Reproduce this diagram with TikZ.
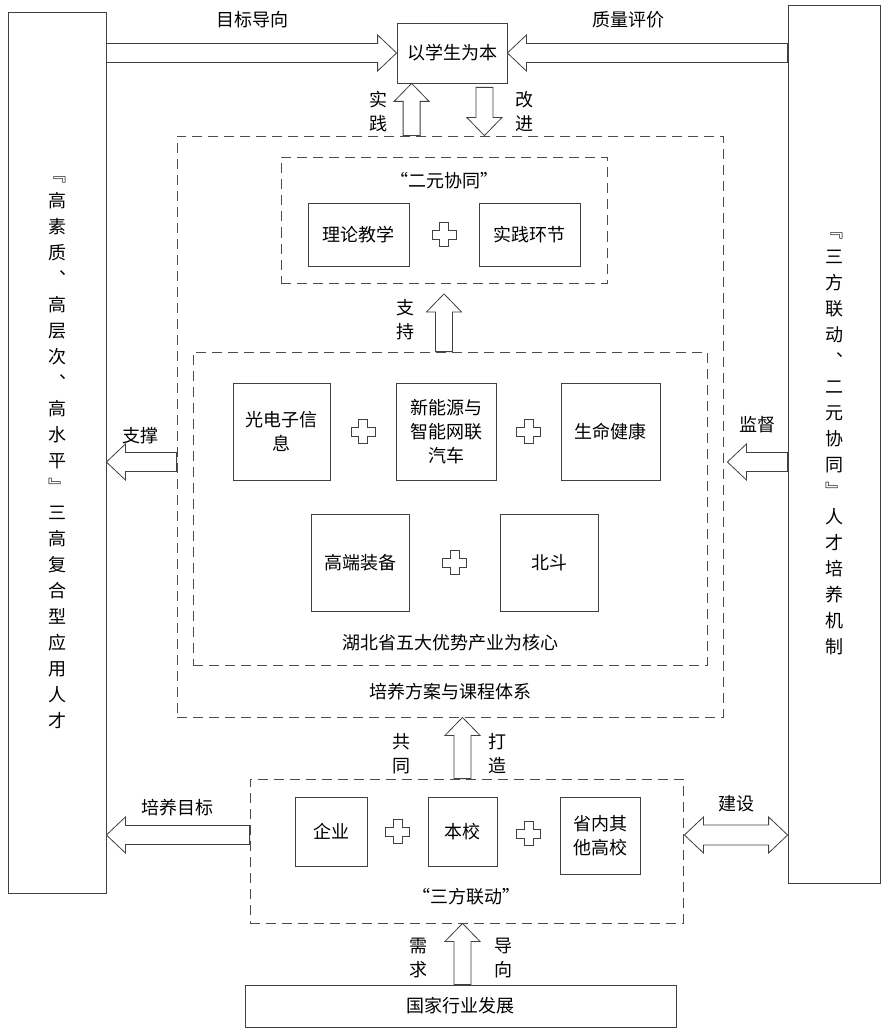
\documentclass[tikz,border=0pt]{standalone}
\usepackage{fontspec}
\setmainfont{Noto Sans CJK SC}
\usetikzlibrary{calc}
\tikzset{
  box/.style={draw=black!75, line width=0.8pt, align=center, inner sep=0pt},
  dbox/.style={draw=black!70, line width=0.8pt, dash pattern=on 10pt off 6pt},
  lbl/.style={inner sep=0pt, align=center},
  blockarrow/.style={draw=black!75, fill=white, line width=0.8pt, line join=miter},
  pics/plussign/.style={code={
    \draw[blockarrow] (-4.5,-12) -- (4.5,-12) -- (4.5,-4.5) -- (12,-4.5) -- (12,4.5) -- (4.5,4.5)
      -- (4.5,12) -- (-4.5,12) -- (-4.5,4.5) -- (-12,4.5) -- (-12,-4.5) -- (-4.5,-4.5) -- cycle;}}
}
% block arrows: horizontal, vertical, double
\newcommand\harrow[2]{%
  \draw[blockarrow] let \p1=(#1), \p2=(#2), \n1={ifthenelse(\x2>\x1,19,-19)} in
    (\x1,{\y1+9.5pt}) -- ({\x2-\n1*1pt},{\y1+9.5pt}) -- ({\x2-\n1*1pt},{\y1+18pt}) -- (\x2,\y1)
    -- ({\x2-\n1*1pt},{\y1-18pt}) -- ({\x2-\n1*1pt},{\y1-9.5pt}) -- (\x1,{\y1-9.5pt}) -- cycle;}
\newcommand\varrow[2]{%
  \draw[blockarrow] let \p1=(#1), \p2=(#2), \n1={ifthenelse(\y2>\y1,18,-18)} in
    ({\x1-8.5pt},\y1) -- ({\x1-8.5pt},{\y2-\n1*1pt}) -- ({\x1-17.5pt},{\y2-\n1*1pt}) -- (\x1,\y2)
    -- ({\x1+17.5pt},{\y2-\n1*1pt}) -- ({\x1+8.5pt},{\y2-\n1*1pt}) -- ({\x1+8.5pt},\y1) -- cycle;}
\newcommand\dharrow[2]{%
  \draw[blockarrow] let \p1=(#1), \p2=(#2) in
    (\x1,\y1) -- ({\x1+19pt},{\y1+18pt}) -- ({\x1+19pt},{\y1+10pt}) -- ({\x2-19pt},{\y1+10pt})
    -- ({\x2-19pt},{\y1+18pt}) -- (\x2,\y1) -- ({\x2-19pt},{\y1-18pt}) -- ({\x2-19pt},{\y1-10pt})
    -- ({\x1+19pt},{\y1-10pt}) -- ({\x1+19pt},{\y1-18pt}) -- cycle;}

\begin{document}
\begin{tikzpicture}[x=1pt, y=-1pt, every node/.append style={font=\fontsize{18}{24}\selectfont}]
	\useasboundingbox (0,0) rectangle (885,1032);
	% side boxes
	\node[box, minimum width=98pt, minimum height=881pt, font=\fontsize{18}{26}\selectfont] (lbox) at (57,452.5)
		{﹃\\高\\素\\质\\︑\\高\\层\\次\\︑\\高\\水\\平\\﹄\\三\\高\\复\\合\\型\\应\\用\\人\\才};
	\node[box, minimum width=92pt, minimum height=878pt, font=\fontsize{18}{26}\selectfont] (rbox) at (834,444)
		{﹃\\三\\方\\联\\动\\︑\\二\\元\\协\\同\\﹄\\人\\才\\培\\养\\机\\制};
	% top
	\node[box, minimum width=110pt, minimum height=60pt] (core) at (452,53) {以学生为本};
	% dashed frames
	\node[dbox, minimum width=546pt, minimum height=581pt] (plan) at (450,426.5) {};
	\node[dbox, minimum width=326pt, minimum height=126pt] (ebox) at (444,220.5) {};
	\node[dbox, minimum width=514pt, minimum height=313pt] (ind) at (450,508.5) {};
	\node[dbox, minimum width=433pt, minimum height=144pt] (tri) at (466.5,851) {};
	% inner boxes
	\node[box, minimum width=101pt, minimum height=63pt] (llj) at (358.5,234.5) {理论教学};
	\node[box, minimum width=101pt, minimum height=63pt] (sjh) at (529.5,234.5) {实践环节};
	\node[box, minimum width=97pt, minimum height=97pt] (gdz) at (281.5,431.5) {光电子信\\息};
	\node[box, minimum width=100pt, minimum height=97pt] (xny) at (446,431.5) {新能源与\\智能网联\\汽车};
	\node[box, minimum width=99pt, minimum height=97pt] (smj) at (610.5,431.5) {生命健康};
	\node[box, minimum width=98pt, minimum height=97pt] (gdb) at (360,562.5) {高端装备};
	\node[box, minimum width=98pt, minimum height=97pt] (bd) at (549,562.5) {北斗};
	\node[box, minimum width=72pt, minimum height=69pt] (qy) at (331,831.5) {企业};
	\node[box, minimum width=69pt, minimum height=69pt] (bx) at (462.5,831.5) {本校};
	\node[box, minimum width=80pt, minimum height=77pt] (snq) at (600,835.5) {省内其\\他高校};
	\node[box, minimum width=431pt, minimum height=42pt] (nation) at (460.5,1006) {国家行业发展};
	% frame titles
	\node[lbl] (ebt) at (444,181) {“二元协同”};
	\node[lbl] (indt) at (450,643) {湖北省五大优势产业为核心};
	\node[lbl] (plant) at (450,692) {培养方案与课程体系};
	\node[lbl] (trit) at (466,897) {“三方联动”};
	% plus signs
	\pic at ($(llj.east)!0.5!(sjh.west)$) {plussign};
	\pic at ($(gdz.east)!0.5!(xny.west)$) {plussign};
	\pic at ($(xny.east)!0.5!(smj.west)$) {plussign};
	\pic at ($(gdb.east)!0.5!(bd.west)$) {plussign};
	\pic at ($(qy.east)!0.5!(bx.west)$) {plussign};
	\pic at ($(bx.east)!0.5!(snq.west)$) {plussign};
	% arrows
	\coordinate (sj) at ($(core.south west)+(15,0)$);
	\coordinate (gj) at ($(core.south east)+(-23,4)$);
	\coordinate (zc) at ($(ebox.south)+(0,10)$);
	\coordinate (midline) at (450,462);
	\harrow{lbox.east |- core}{core.west}
	\harrow{rbox.west |- core}{core.east}
	\varrow{sj |- plan.north}{sj}
	\varrow{gj}{gj |- plan.north}
	\varrow{zc |- ind.north}{zc}
	\harrow{plan.west |- midline}{lbox.east |- midline}
	\harrow{rbox.west |- midline}{$(plan.east |- midline)+(4,0)$}
	\varrow{bx |- tri.north}{bx |- plan.south}
	\harrow{tri.west |- 0,835}{lbox.east |- 0,835}
	\dharrow{$(tri.east |- 0,835)+(1,0)$}{rbox.west |- 0,835}
	\varrow{bx |- nation.north}{bx |- tri.south}
	% arrow labels
	\node[lbl] (mbdx) at (252,20) {目标导向};
	\node[lbl] (zlpj) at (628,20) {质量评价};
	\node[lbl] (sjl) at (378,112) {实\\践};
	\node[lbl] (gjl) at (524,112) {改\\进};
	\node[lbl] (zcl) at (405,320) {支\\持};
	\node[lbl] (zcheng) at (140,436) {支撑};
	\node[lbl] (jd) at (757,425) {监督};
	\node[lbl] (gt) at (401,754) {共\\同};
	\node[lbl] (dz) at (497,754) {打\\造};
	\node[lbl] (pymb) at (177,808) {培养目标};
	\node[lbl] (js) at (736,804) {建设};
	\node[lbl] (xq) at (418,958) {需\\求};
	\node[lbl] (dx) at (503,958) {导\\向};
\end{tikzpicture}
\end{document}
